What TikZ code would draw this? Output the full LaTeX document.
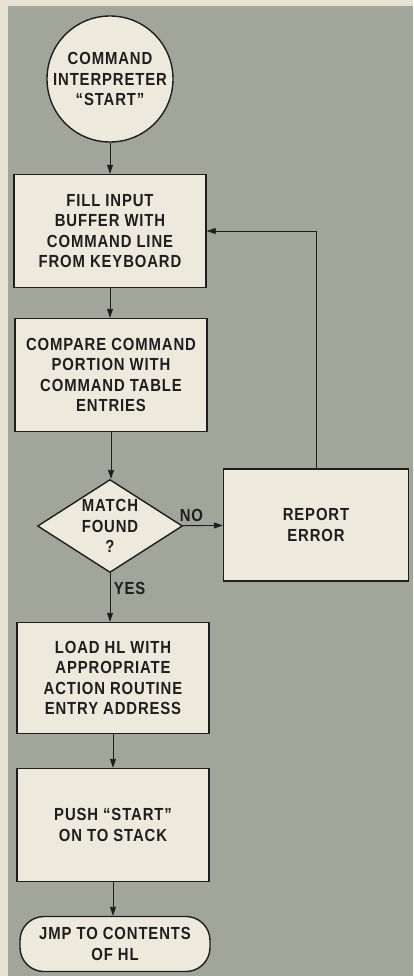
\documentclass[tikz,border=0pt]{standalone}
\usepackage{fontspec}
\setmainfont{Liberation Sans}[FakeStretch=0.85, LetterSpace=5]
\usepackage{xcolor}
\usepackage{tikz}
\usetikzlibrary{positioning, arrows.meta, shapes.geometric}

\definecolor{paper}{RGB}{232,226,210}
\definecolor{panel}{RGB}{162,165,154}
\definecolor{cream}{RGB}{237,234,221}
\definecolor{ink}{RGB}{30,30,30}

\begin{document}
\begin{tikzpicture}[x=1pt, y=-1pt,
    chart/.style={draw=ink, fill=cream, line width=1.4pt, align=center, text=ink,
      font=\fontsize{17.5}{20.5}\selectfont\bfseries},
    box/.style={chart, rectangle, minimum width=192pt, minimum height=113pt},
    flow/.style={draw=ink, line width=0.9pt, -{Triangle[length=9pt, width=6pt]}},
    lbl/.style={text=ink, font=\fontsize{17.5}{20.5}\selectfont\bfseries}]
    \useasboundingbox (0,0) rectangle (413,976);
    \fill[paper] (0,0) rectangle (413,976);
    \fill[panel] (8,6) rectangle (413,976);

    \node[chart, circle, minimum size=126pt, inner sep=0pt] (start) at (110,79) {COMMAND\\INTERPRETER\\“START”};
    \node[box] (fill) at (110,231) {FILL INPUT\\BUFFER WITH\\COMMAND LINE\\FROM KEYBOARD};
    \node[box] (compare) at (111,375) {COMPARE COMMAND\\PORTION WITH\\COMMAND TABLE\\ENTRIES};
    \node[chart, diamond, shape aspect=1.56, minimum width=145pt, minimum height=93pt, inner sep=0pt] (match) at (110,526) {MATCH\\FOUND\\?};
    \node[box, minimum width=185pt, minimum height=112pt] (report) at (316,525) {REPORT\\ERROR};
    \node[box, minimum height=111pt] (load) at (113,678) {LOAD HL WITH\\APPROPRIATE\\ACTION ROUTINE\\ENTRY ADDRESS};
    \node[box] (push) at (113,825) {PUSH “START”\\ON TO STACK};
    \node[chart, rectangle, rounded corners=24pt, minimum width=190pt, minimum height=55pt, inner sep=2pt] (jmp) at (115,944) {JMP TO CONTENTS\\OF HL};

    \draw[flow] (start) -- (start |- fill.north);
    \draw[flow] (fill) -- (fill |- compare.north);
    \draw[flow] (compare) -- (compare |- match.north);
    \draw[flow] (match) -- (report) node[lbl, pos=0.22, above] {NO};
    \draw[flow] (report.north) |- (fill.east);
    \draw[flow] (match.south) -- (match.south |- load.north) node[lbl, pos=0.32, right] {YES};
    \draw[flow] (load) -- (push);
    \draw[flow] (push) -- (push |- jmp.north);
\end{tikzpicture}
\end{document}
